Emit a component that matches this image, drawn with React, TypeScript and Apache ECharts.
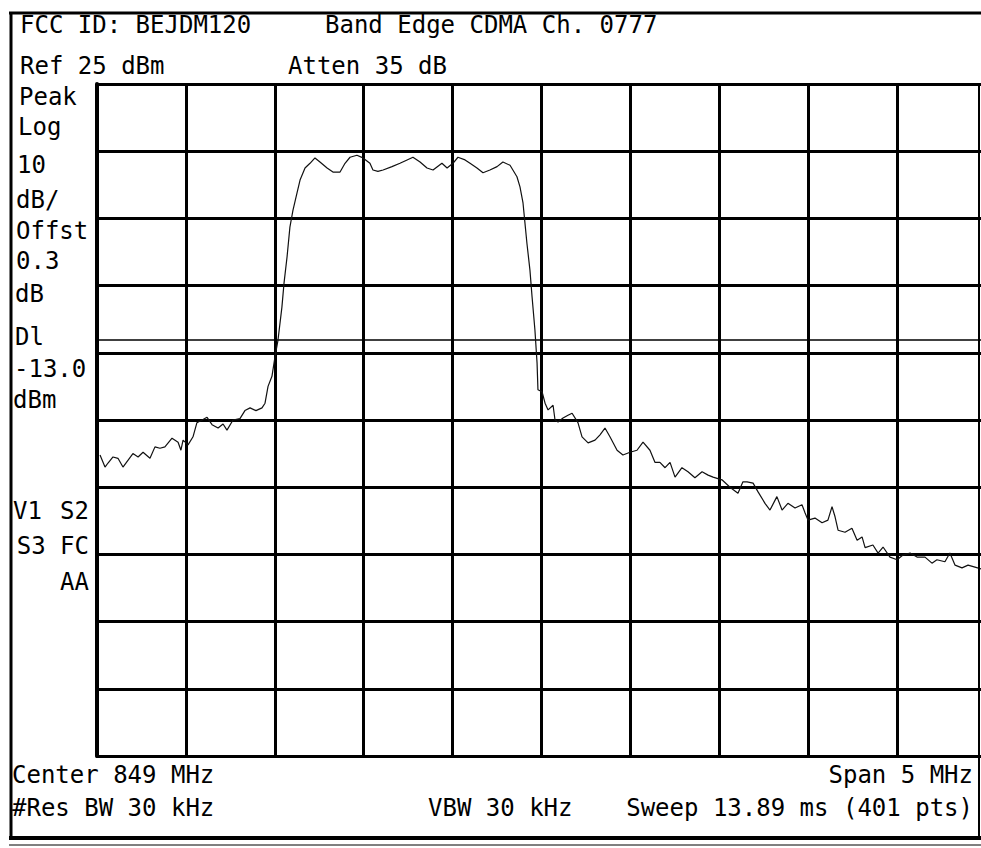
import React, { useEffect, useRef } from "react";
import * as echarts from "echarts";

// Spectrum analyzer trace (frequency in MHz, level in dBm)
const freqsMHz = [
  846.517, 846.545, 846.562, 846.59, 846.618, 846.646, 846.674, 846.702, 846.731, 846.759,
  846.798, 846.826, 846.854, 846.882, 846.922, 846.956, 846.972, 846.984, 847.012, 847.04,
  847.062, 847.091, 847.119, 847.147, 847.181, 847.209, 847.231, 847.265, 847.304, 847.332,
  847.361, 847.394, 847.428, 847.445, 847.462, 847.484, 847.501, 847.518, 847.54, 847.552,
  847.569, 847.585, 847.602, 847.625, 847.642, 847.67, 847.698, 847.726, 847.754, 847.794,
  847.827, 847.867, 847.895, 847.923, 847.962, 847.996, 848.035, 848.052, 848.08, 848.109,
  848.159, 848.204, 848.244, 848.277, 848.317, 848.356, 848.39, 848.44, 848.469, 848.502,
  848.53, 848.57, 848.598, 848.637, 848.671, 848.71, 848.75, 848.783, 848.823, 848.862,
  848.879, 848.896, 848.907, 848.918, 848.935, 848.947, 848.963, 848.975, 848.98, 849.003,
  849.02, 849.037, 849.065, 849.076, 849.093, 849.121, 849.149, 849.172, 849.205, 849.228,
  849.262, 849.301, 849.329, 849.357, 849.385, 849.425, 849.458, 849.498, 849.537, 849.571,
  849.61, 849.638, 849.666, 849.695, 849.723, 849.751, 849.79, 849.824, 849.863, 849.903,
  849.937, 849.965, 850.015, 850.06, 850.105, 850.133, 850.156, 850.19, 850.218, 850.257,
  850.285, 850.324, 850.353, 850.386, 850.426, 850.465, 850.482, 850.499, 850.538, 850.578,
  850.611, 850.634, 850.651, 850.668, 850.707, 850.746, 850.775, 850.803, 850.82, 850.864,
  850.893, 850.921, 850.96, 851.0, 851.033, 851.073, 851.112, 851.157, 851.196, 851.224,
  851.269, 851.297, 851.326, 851.365, 851.399, 851.438, 851.477, 851.5,
];

const levelsDbm = [
  -30.2, -32.0, -31.4, -30.5, -30.7, -32.0, -31.0, -30.0, -30.5, -29.8,
  -30.7, -29.0, -29.2, -29.0, -27.7, -28.3, -29.5, -28.0, -28.7, -27.5,
  -25.4, -25.0, -24.6, -25.7, -26.2, -25.6, -26.5, -25.0, -24.8, -23.6,
  -23.2, -23.6, -23.2, -22.5, -20.0, -18.5, -15.6, -13.1, -8.2, -4.6,
  -0.7, 3.7, 6.2, 8.8, 10.7, 12.5, 13.2, 14.0, 13.4, 12.5,
  11.9, 11.9, 13.2, 14.1, 14.4, 14.0, 13.2, 12.2, 12.0, 12.2,
  12.7, 13.2, 13.7, 14.1, 13.4, 12.5, 12.2, 13.2, 12.5, 13.2,
  14.1, 13.7, 13.2, 12.5, 11.8, 12.2, 12.7, 13.4, 12.9, 11.2,
  9.7, 7.3, 4.3, 1.3, -2.7, -6.7, -11.6, -16.5, -20.5, -20.8,
  -22.5, -23.5, -22.8, -25.0, -25.3, -24.7, -24.3, -24.0, -25.4, -27.5,
  -28.4, -28.0, -27.2, -26.2, -27.5, -29.5, -30.2, -29.8, -29.5, -28.3,
  -29.5, -31.3, -31.3, -32.1, -31.3, -33.5, -32.1, -32.7, -33.6, -32.7,
  -33.2, -33.5, -33.9, -35.0, -35.9, -34.2, -34.2, -34.4, -35.7, -37.4,
  -38.4, -36.4, -38.4, -37.4, -38.1, -37.6, -38.8, -39.9, -39.6, -40.3,
  -39.9, -37.9, -39.4, -41.4, -41.7, -41.1, -42.9, -42.4, -44.0, -43.6,
  -44.8, -43.9, -45.4, -45.8, -45.1, -44.8, -45.4, -45.4, -46.3, -45.8,
  -46.1, -44.8, -46.6, -47.0, -46.6, -46.9, -47.2, -46.8,
];

const refLevelDbm = 25;
const dbPerDiv = 10;
const divisions = 10;
const displayLineDbm = -13;
const centerMHz = 849;
const spanMHz = 5;

const FONT = "'DejaVu Sans Mono', monospace";

export default function App() {
  const ref = useRef<HTMLDivElement>(null);

  useEffect(() => {
    if (!ref.current) return;
    const chart = echarts.init(ref.current, null, { renderer: "svg" });
    const data = freqsMHz.map((f, i) => [f, levelsDbm[i]]);

    const txt = (text: string, x: number, y: number, align: string = "left") => ({
      type: "text",
      x,
      y,
      silent: true,
      z: 10,
      style: {
        text,
        fill: "#000",
        fontFamily: FONT,
        fontSize: 24,
        lineHeight: 20,
        align,
        verticalAlign: "middle",
      },
    });
    const ln = (x1: number, y1: number, x2: number, y2: number, w: number) => ({
      type: "line",
      silent: true,
      z: 10,
      shape: { x1, y1, x2, y2 },
      style: { stroke: "#000", lineWidth: w },
    });

    const bottom = refLevelDbm - dbPerDiv * divisions;

    chart.setOption({
      animation: false,
      backgroundColor: "#fff",
      grid: { left: 97, top: 84, width: 889, height: 672, containLabel: false },
      xAxis: {
        type: "value",
        min: centerMHz - spanMHz / 2,
        max: centerMHz + spanMHz / 2,
        interval: spanMHz / divisions,
        axisLabel: { show: false },
        axisTick: { show: false },
        axisLine: { show: true, onZero: false, lineStyle: { color: "#000", width: 3 } },
        splitLine: { show: true, lineStyle: { color: "#000", width: 3 } },
      },
      yAxis: {
        type: "value",
        min: bottom,
        max: refLevelDbm,
        interval: dbPerDiv,
        axisLabel: { show: false },
        axisTick: { show: false },
        axisLine: { show: true, onZero: false, lineStyle: { color: "#000", width: 4 } },
        splitLine: { show: true, lineStyle: { color: "#000", width: 3 } },
      },
      series: [
        {
          type: "line",
          data,
          showSymbol: false,
          symbol: "none",
          lineStyle: { color: "#111", width: 1.2 },
          z: 5,
          markLine: {
            silent: true,
            symbol: ["none", "none"],
            label: { show: false },
            lineStyle: { color: "#000", width: 1.5, type: "solid" },
            data: [{ yAxis: displayLineDbm }],
          },
        },
      ],
      graphic: [
        // frame
        ln(9, 13, 981, 13, 3),
        ln(11, 12, 11, 840, 3),
        ln(9, 838, 981, 838, 4),
        ln(9, 845, 981, 845, 1),
        ln(979, 84, 979, 838, 2),
        // header
        txt("FCC ID: BEJDM120", 20, 25),
        txt("Band Edge CDMA Ch. 0777", 325, 25),
        txt("Ref 25 dBm", 20, 66),
        txt("Atten 35 dB", 288, 66),
        // left annotations
        txt("Peak", 19, 97),
        txt("Log", 18, 127),
        txt("10", 17, 165),
        txt("dB/", 16, 200),
        txt("Offst", 16, 231),
        txt("0.3", 16, 261),
        txt("dB", 15, 294),
        txt("Dl", 15, 337),
        txt("-13.0", 14, 369),
        txt("dBm", 13, 400),
        txt("V1", 13, 511),
        txt("S2", 89, 511, "right"),
        txt("S3 FC", 89, 546, "right"),
        txt("AA", 89, 582, "right"),
        // footer
        txt("Center 849 MHz", 12, 775),
        txt("Span 5 MHz", 973, 775, "right"),
        txt("#Res BW 30 kHz", 12, 808),
        txt("VBW 30 kHz", 428, 808),
        txt("Sweep 13.89 ms (401 pts)", 973, 808, "right"),
      ],
    });

    return () => chart.dispose();
  }, []);

  return (
    <div
      style={{
        position: "fixed",
        left: 0,
        top: 0,
        width: 981,
        height: 848,
        overflow: "hidden",
        background: "#fff",
      }}
    >
      <div ref={ref} style={{ width: 992, height: 848 }} />
    </div>
  );
}
